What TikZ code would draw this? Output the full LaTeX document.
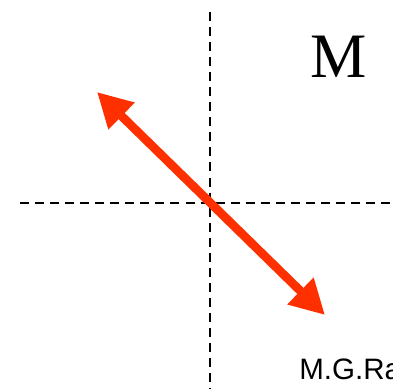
\documentclass[tikz,border=0pt]{standalone}
\usepackage{fontspec}
\setmainfont{Liberation Serif}
\newfontfamily\arialfont{Liberation Sans}
\usetikzlibrary{arrows.meta}
\definecolor{vecRed}{RGB}{255,48,0}

\begin{document}
\begin{tikzpicture}[
        x=0.025cm, y=-0.025cm,
        axis/.style={
            dashed,
            dash pattern=on 6.4pt off 4.3pt,
            line width=0.9pt
        },
        vector/.style={
            draw=vecRed,
            line width=6.2pt,
            {Triangle[length=0.86cm,width=0.88cm]}-{Triangle[length=0.86cm,width=0.88cm]}
        },
        bigletter/.style={
            font=\fontsize{45}{45}\selectfont,
            inner sep=0pt
        },
        credit/.style={
            font=\arialfont\fontsize{21}{22}\selectfont,
            anchor=base west,
            inner sep=0pt
        }
    ]

    \useasboundingbox (0,0) rectangle (393,389);

    \coordinate (vtop) at (210,12);
    \coordinate (vbot) at (210,389);
    \coordinate (hleft) at (20,203);
    \coordinate (hright) at (393,203);
    \draw[axis] (vtop) -- (vbot);
    \draw[axis] (hleft) -- (hright);

    \coordinate (tipA) at (97,92);
    \coordinate (tipB) at (325,315);
    \draw[vector] (tipA) -- (tipB);

    \node[bigletter] (lbl) at (338.5,57) {M};
    \node[credit] (auth) at (299,379) {M.G.Ra};

\end{tikzpicture}
\end{document}
